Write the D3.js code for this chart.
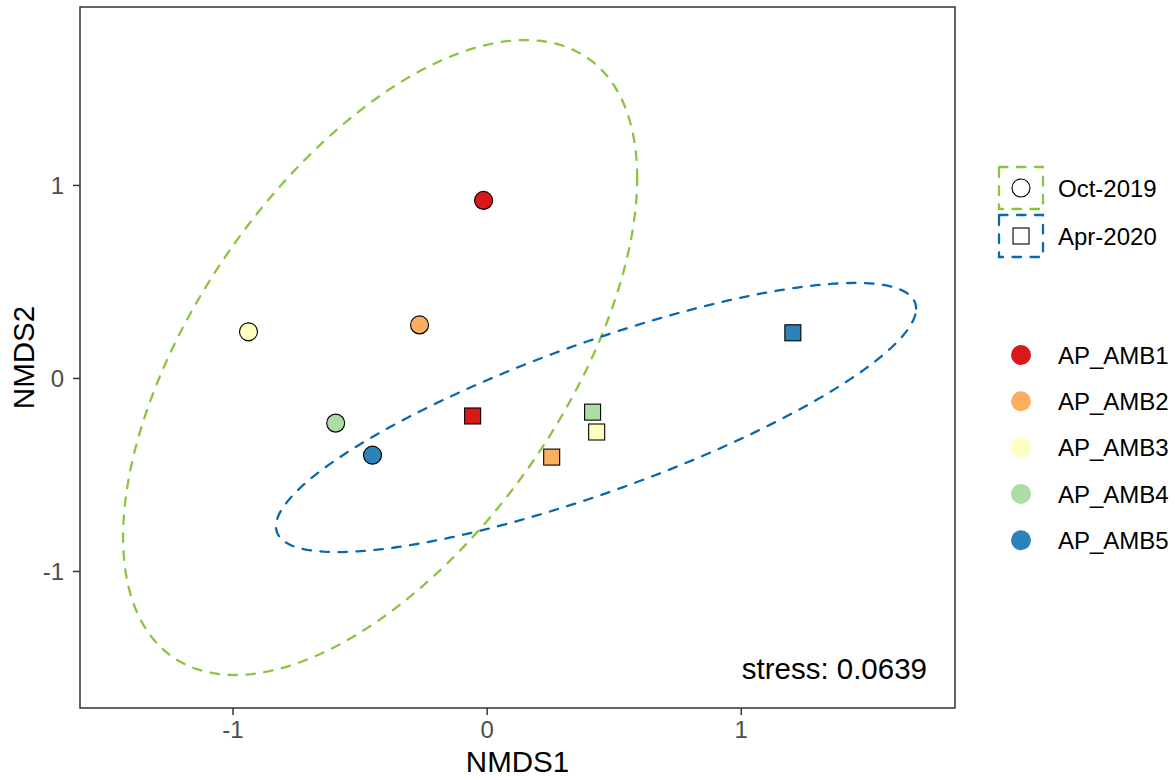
<!DOCTYPE html>
<html><head><meta charset="utf-8">
<script src="https://cdn.jsdelivr.net/npm/d3@7"></script>
<style>body{margin:0;background:#fff}svg{font-family:"Liberation Sans",Arial,sans-serif}</style>
</head><body><svg id="c" width="1175" height="780"></svg>
<script>
const sites = ["AP_AMB1","AP_AMB2","AP_AMB3","AP_AMB4","AP_AMB5"];
const siteColors = ["#D7191C","#FDAE61","#FFFFBF","#ABDDA4","#2B83BA"];
const seasons = ["Oct-2019","Apr-2020"];
const seasonColors = ["#8CC43F","#0868AC"];
const octX = [-0.012,-0.264,-0.937,-0.594,-0.449];
const octY = [0.92,0.275,0.239,-0.234,-0.40];
const aprX = [-0.055,0.256,0.433,0.417,1.205];
const aprY = [-0.197,-0.41,-0.28,-0.177,0.234];
// ellipse parameters: centre x, centre y, var x, var y, cov xy
const ellCx = [-0.419, 0.4305];
const ellCy = [0.106, -0.205];
const ellSxx = [1.023, 1.586];
const ellSyy = [2.706, 0.486];
const ellSxy = [0.941, 0.710];
const xTicks = [-1,0,1];
const yTicks = [-1,0,1];
const stressLabel = "stress: 0.0639";

const svg = d3.select("#c");
const P = {l:80, r:955, t:7, b:708};
const x = d3.scaleLinear().domain([-1.6, 1.843]).range([P.l, P.r]);
const y = d3.scaleLinear().domain([-1.71, 1.922]).range([P.b, P.t]);

svg.append("rect").attr("x",P.l).attr("y",P.t).attr("width",P.r-P.l).attr("height",P.b-P.t)
  .attr("fill","#fff");

// ellipses
const line = d3.line().x(d=>x(d[0])).y(d=>y(d[1]));
seasons.forEach((s,i)=>{
  const a = Math.sqrt(ellSxx[i]);
  const b = ellSxy[i]/a;
  const c = Math.sqrt(ellSyy[i]-b*b);
  const pts = d3.range(0,241).map(k=>{
    const t = k/240*2*Math.PI;
    const u = Math.cos(t), v = Math.sin(t);
    return [ellCx[i]+a*u, ellCy[i]+b*u+c*v];
  });
  svg.append("path").attr("d",line(pts)).attr("fill","none")
    .attr("stroke",seasonColors[i]).attr("stroke-width",2.3)
    .attr("stroke-dasharray","8.5,9.5").attr("stroke-linecap","round");
});

// points
const g = svg.append("g");
sites.forEach((s,i)=>{
  g.append("circle").attr("cx",x(octX[i])).attr("cy",y(octY[i])).attr("r",9)
    .attr("fill",siteColors[i]).attr("stroke","#000").attr("stroke-width",1.1);
});
sites.forEach((s,i)=>{
  g.append("rect").attr("x",x(aprX[i])-8).attr("y",y(aprY[i])-8).attr("width",16).attr("height",16)
    .attr("fill",siteColors[i]).attr("stroke","#000").attr("stroke-width",1.1);
});

// stress label
svg.append("text").attr("x",927).attr("y",679).attr("text-anchor","end")
  .attr("font-size",29.5).attr("fill","#000").text(stressLabel);

// border
svg.append("rect").attr("x",P.l).attr("y",P.t).attr("width",P.r-P.l).attr("height",P.b-P.t)
  .attr("fill","none").attr("stroke","#333").attr("stroke-width",1.5);

// axes
const xa = svg.append("g").attr("transform",`translate(0,${P.b})`)
  .call(d3.axisBottom(x).tickValues(xTicks).tickSize(7).tickPadding(6).tickFormat(d3.format("d")));
const ya = svg.append("g").attr("transform",`translate(${P.l},0)`)
  .call(d3.axisLeft(y).tickValues(yTicks).tickSize(7).tickPadding(9).tickFormat(d3.format("d")));
[xa,ya].forEach(a=>{
  a.select(".domain").remove();
  a.selectAll("line").attr("stroke","#333").attr("stroke-width",1.5);
  a.selectAll("text").attr("fill","#4D4D4D").attr("font-size",24).attr("font-family","Liberation Sans, Arial, sans-serif");
});
xa.selectAll("text").text(d=>d<0?"-"+Math.abs(d):d).attr("y",null).attr("dy",null).attr("y",30);
ya.selectAll("text").text(d=>d<0?"-"+Math.abs(d):d).attr("dy","0.36em");

svg.append("text").attr("x",(P.l+P.r)/2).attr("y",772).attr("text-anchor","middle")
  .attr("font-size",29.5).attr("fill","#000").text("NMDS1");
svg.append("text").attr("transform",`translate(34,${(P.t+P.b)/2}) rotate(-90)`).attr("text-anchor","middle")
  .attr("font-size",29.5).attr("fill","#000").text("NMDS2");

// legend 1: seasons
const L1 = svg.append("g");
seasons.forEach((s,i)=>{
  const cy = 188 + i*48;
  L1.append("rect").attr("x",999).attr("y",cy-21).attr("width",44).attr("height",42)
    .attr("fill","none").attr("stroke",seasonColors[i]).attr("stroke-width",2.3)
    .attr("stroke-dasharray","8.5,9.5").attr("stroke-linecap","round");
  if(i===0){
    L1.append("circle").attr("cx",1021).attr("cy",cy).attr("r",9).attr("fill","none").attr("stroke","#000").attr("stroke-width",1.1);
  } else {
    L1.append("rect").attr("x",1013).attr("y",cy-8).attr("width",16).attr("height",16).attr("fill","none").attr("stroke","#000").attr("stroke-width",1.1);
  }
  L1.append("text").attr("x",1058).attr("y",cy).attr("dy","0.36em").attr("font-size",24).attr("fill","#000").text(s);
});

// legend 2: sites
const L2 = svg.append("g");
sites.forEach((s,i)=>{
  const cy = 355 + i*46.3;
  L2.append("circle").attr("cx",1021).attr("cy",cy).attr("r",10).attr("fill",siteColors[i]);
  L2.append("text").attr("x",1058).attr("y",cy).attr("dy","0.36em").attr("font-size",24).attr("fill","#000").text(s);
});
</script></body></html>
